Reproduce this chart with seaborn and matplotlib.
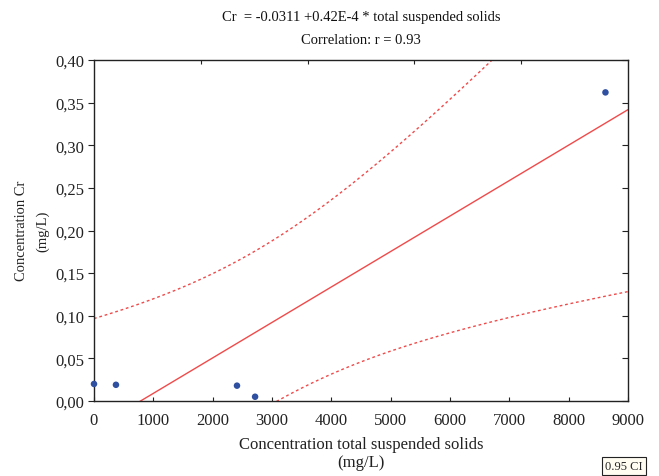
import numpy as np
import pandas as pd
import matplotlib
matplotlib.use("Agg")
import matplotlib.pyplot as plt
import seaborn as sns
from matplotlib.ticker import FuncFormatter, NullFormatter

# Data
tss = [0, 370, 2410, 2715, 8620]
cr = [0.020, 0.019, 0.018, 0.005, 0.362]
x_ticks = [0, 1000, 2000, 3000, 4000, 5000, 6000, 7000, 8000, 9000]
top_ticks = [1800, 3600, 5400, 7200]
y_ticks = [0.00, 0.05, 0.10, 0.15, 0.20, 0.25, 0.30, 0.35, 0.40]
title_lines = ["Cr  = -0.0311 +0.42E-4 * total suspended solids", "Correlation: r = 0.93"]
xlabel_lines = ["Concentration total suspended solids", "(mg/L)"]
ylabel_lines = ["Concentration Cr", "(mg/L)"]
t_crit = 3.182  # t(0.975, df=3)

df = pd.DataFrame({"tss": tss, "cr": cr})

# Linear fit and 95% confidence band of the mean
x = np.array(tss, dtype=float)
y = np.array(cr, dtype=float)
n = len(x)
b1, b0 = np.polyfit(x, y, 1)
resid = y - (b0 + b1 * x)
s = np.sqrt(np.sum(resid ** 2) / (n - 2))
sxx = np.sum((x - x.mean()) ** 2)
xg = np.linspace(0, 9000, 300)
yg = b0 + b1 * xg
se = s * np.sqrt(1.0 / n + (xg - x.mean()) ** 2 / sxx)
fit = pd.DataFrame({"x": xg, "fit": yg, "lo": yg - t_crit * se, "hi": yg + t_crit * se})

sns.set_style("white")
plt.rcParams["font.family"] = ["Liberation Serif", "DejaVu Serif"]

W, H = 659, 477
fig = plt.figure(figsize=(6.59, 4.77), dpi=100)
L, R, T, B = 94, 628, 61, 402
ax = fig.add_axes([L / W, 1 - B / H, (R - L) / W, (B - T) / H])

red = "#f04a4a"
sns.lineplot(data=fit, x="x", y="fit", ax=ax, color=red, lw=1.0)
sns.lineplot(data=fit, x="x", y="lo", ax=ax, color=red, lw=1.0, linestyle=(0, (2, 2)))
sns.lineplot(data=fit, x="x", y="hi", ax=ax, color=red, lw=1.0, linestyle=(0, (2, 2)))
sns.scatterplot(data=df, x="tss", y="cr", ax=ax, color="#2f4fa0", s=22, edgecolor="none", zorder=5, clip_on=False)

ax.set_xlim(0, 9000)
ax.set_ylim(0, 0.40)
ax.set_xticks(x_ticks)
ax.set_yticks(y_ticks)
ax.yaxis.set_major_formatter(FuncFormatter(lambda v, p: f"{v:.2f}".replace(".", ",")))
ax.tick_params(axis="both", labelsize=12, colors="#222222", length=4, width=0.8)
ax.tick_params(axis="y", direction="out", left=True, right=False, pad=3)
ax.tick_params(axis="x", direction="in", bottom=True, top=False, pad=8, length=3)
for side in ["left", "bottom", "top", "right"]:
    ax.spines[side].set_visible(True)
    ax.spines[side].set_color("#222222")
    ax.spines[side].set_linewidth(1.0)

sec_top = ax.secondary_xaxis("top")
sec_top.set_xticks(top_ticks)
sec_top.xaxis.set_major_formatter(NullFormatter())
sec_top.tick_params(direction="in", length=3, width=0.8, colors="#222222")
sec_right = ax.secondary_yaxis("right")
sec_right.set_yticks(y_ticks)
sec_right.yaxis.set_major_formatter(NullFormatter())
sec_right.tick_params(direction="in", length=4, width=0.8, colors="#222222")
for sec in (sec_top, sec_right):
    for sp in sec.spines.values():
        sp.set_visible(False)

ax.set_xlabel("")
ax.set_ylabel("")
cx = 0.5 * (L + R) / W
fig.text(cx, 1 - 445 / H, xlabel_lines[0], ha="center", va="center", fontsize=12, color="#222222")
fig.text(cx, 1 - 463 / H, xlabel_lines[1], ha="center", va="center", fontsize=12, color="#222222")
fig.text(22 / W, 1 - 231 / H, ylabel_lines[0], ha="center", va="center", rotation=90, fontsize=10.5, color="#222222")
fig.text(43 / W, 1 - 231 / H, ylabel_lines[1], ha="center", va="center", rotation=90, fontsize=10.5, color="#222222")
fig.text(cx, 1 - 17 / H, title_lines[0], ha="center", va="center", fontsize=10.5, color="#111111")
fig.text(cx, 1 - 40 / H, title_lines[1], ha="center", va="center", fontsize=10.5, color="#111111")

fig.text(624 / W, 1 - 467 / H, "0.95 CI", ha="center", va="center", fontsize=9,
         bbox=dict(boxstyle="square,pad=0.25", facecolor="#fffdf2", edgecolor="#222222", lw=0.8))

if ax.get_legend():
    ax.get_legend().remove()

fig.savefig("out.png", dpi=100)
